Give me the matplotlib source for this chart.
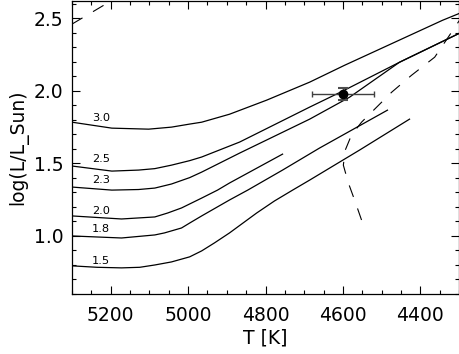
import matplotlib
matplotlib.use("Agg")
import matplotlib.pyplot as plt
from matplotlib.ticker import MultipleLocator

plt.rcParams['font.family'] = ['DejaVu Sans']

# evolutionary tracks (T in K, log L/Lsun)
masses = ['3.0', '2.5', '2.3', '2.0', '1.8', '1.5']

t30_T = [5300, 5197, 5102, 5043, 4996, 4965, 4893, 4797, 4686, 4596, 4343, 4299]
t30_L = [1.784, 1.743, 1.736, 1.750, 1.771, 1.784, 1.839, 1.936, 2.060, 2.176, 2.486, 2.534]

t25_T = [5300, 5197, 5128, 5086, 5043, 4996, 4965, 4867, 4686, 4601, 4454, 4299]
t25_L = [1.482, 1.447, 1.454, 1.464, 1.488, 1.519, 1.544, 1.647, 1.888, 1.998, 2.197, 2.397]

t23_T = [5300, 5197, 5128, 5086, 5043, 4996, 4965, 4867, 4686, 4583, 4454, 4299]
t23_L = [1.337, 1.316, 1.320, 1.330, 1.358, 1.402, 1.440, 1.571, 1.805, 1.956, 2.197, 2.397]

t20_T = [5300, 5172, 5086, 5053, 5017, 4965, 4924, 4893, 4756]
t20_L = [1.138, 1.117, 1.131, 1.158, 1.193, 1.261, 1.316, 1.365, 1.564]

t18_T = [5300, 5172, 5086, 5061, 5017, 4996, 4965, 4893, 4846, 4756, 4661, 4485]
t18_L = [1.000, 0.986, 1.007, 1.021, 1.055, 1.089, 1.138, 1.248, 1.316, 1.454, 1.605, 1.867]

t15_T = [5300, 5235, 5172, 5125, 5086, 5043, 4996, 4965, 4932, 4893, 4823, 4777, 4730, 4686, 4557, 4428]
t15_L = [0.794, 0.784, 0.780, 0.784, 0.800, 0.821, 0.856, 0.897, 0.952, 1.021, 1.158, 1.241, 1.316, 1.385, 1.592, 1.805]

label_L = [1.815, 1.530, 1.385, 1.172, 1.048, 0.828]

# dashed lines
dash1_T = [4552, 4570, 4586, 4599, 4594, 4578, 4552, 4526, 4474, 4423, 4363, 4330, 4299]
dash1_L = [1.110, 1.248, 1.365, 1.488, 1.592, 1.695, 1.784, 1.853, 1.991, 2.107, 2.232, 2.362, 2.486]

dash2_T = [5300, 5180]
dash2_L = [2.46, 2.65]

# the star
star_T, star_Terr = 4600, 80
star_L, star_Lerr = 1.98, 0.04

fig = plt.figure(figsize=(4.6, 3.54), dpi=100)
ax = fig.add_axes([0.1565, 0.1695, 0.8415, 0.828])

tracks = [(t30_T, t30_L), (t25_T, t25_L), (t23_T, t23_L),
          (t20_T, t20_L), (t18_T, t18_L), (t15_T, t15_L)]
for (T, L), m, ly in zip(tracks, masses, label_L):
    ax.plot(T, L, color='black', lw=0.9)
    ax.text(5249, ly, m, fontsize=8.2, ha='left', va='center')

ax.plot(dash1_T, dash1_L, color='black', lw=0.8, linestyle=(0, (11, 11)))
ax.plot(dash2_T, dash2_L, color='black', lw=0.8, linestyle=(0, (11, 11)))

ax.errorbar(star_T, star_L, xerr=star_Terr, fmt='none', ecolor='0.25',
            elinewidth=1.0, capsize=2.2, capthick=1.0)
ax.errorbar(star_T, star_L, yerr=star_Lerr, fmt='none', ecolor='0.3',
            elinewidth=1.0, capsize=3.8, capthick=1.5)
ax.plot(star_T, star_L, 'o', color='black', ms=6)

ax.set_xlim(5300, 4300)
ax.set_ylim(0.6, 2.62)
ax.xaxis.set_major_locator(MultipleLocator(200))
ax.xaxis.set_minor_locator(MultipleLocator(50))
ax.yaxis.set_major_locator(MultipleLocator(0.5))
ax.yaxis.set_minor_locator(MultipleLocator(0.1))
ax.tick_params(which='both', direction='in', top=True, right=True, width=0.8,
               labelsize=13.5)
ax.tick_params(which='major', length=6)
ax.tick_params(which='minor', length=3)
ax.tick_params(axis='x', pad=9)
ax.tick_params(axis='y', pad=6)
ax.yaxis.set_major_formatter(plt.FormatStrFormatter('%.1f'))
for s in ax.spines.values():
    s.set_linewidth(0.9)

ax.set_xlabel('T [K]', fontsize=13.5, labelpad=2)
ax.set_ylabel('log(L/L_Sun)', fontsize=13.5, labelpad=4)

fig.savefig('out.png', dpi=100)
